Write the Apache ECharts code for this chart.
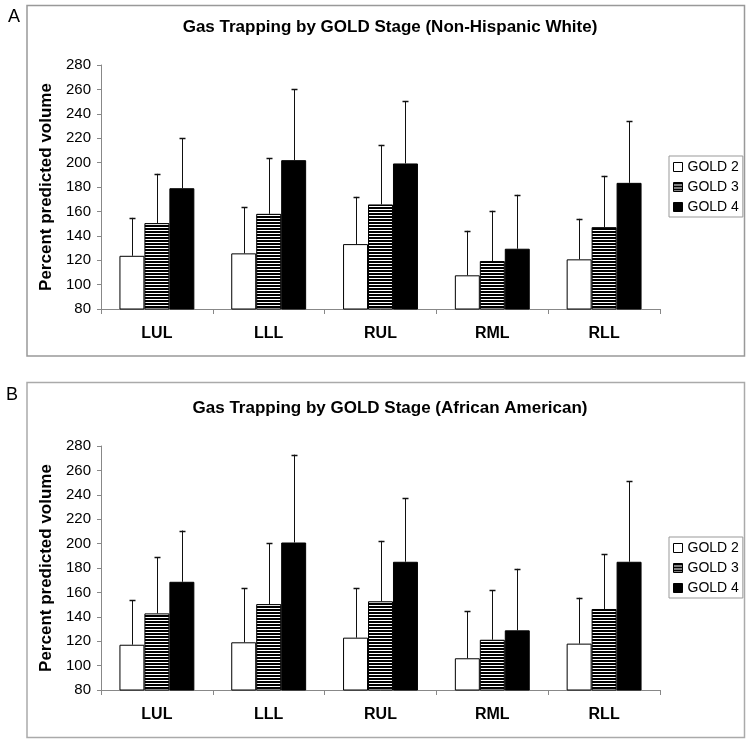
<!DOCTYPE html>
<html>
<head>
<meta charset="utf-8">
<script src="https://cdn.jsdelivr.net/npm/echarts@6/dist/echarts.min.js"></script>
<style>html,body{margin:0;padding:0;background:#fff}#c{width:750px;height:742px}</style>
</head>
<body>
<div id="c"></div>
<script>
const categories = ['LUL', 'LLL', 'RUL', 'RML', 'RLL'];
const seriesNames = ['GOLD 2', 'GOLD 3', 'GOLD 4'];
const yTicks = [80, 100, 120, 140, 160, 180, 200, 220, 240, 260, 280];

// Panel A: Non-Hispanic White (means and SD)
const nhwGold2 = [123.6, 125.6, 133.2, 107.6, 120.7];
const nhwGold3 = [150.4, 158.0, 165.7, 119.3, 147.1];
const nhwGold4 = [179.0, 202.0, 199.3, 129.4, 183.4];
const nhwGold2Sd = [31.1, 37.6, 38.7, 36.5, 33.2];
const nhwGold3Sd = [40.4, 45.6, 48.8, 41.2, 42.0];
const nhwGold4Sd = [41.0, 58.0, 51.2, 44.2, 50.3];

// Panel B: African American (means and SD)
const aaGold2 = [117.1, 119.1, 122.9, 106.0, 118.0];
const aaGold3 = [142.8, 150.4, 152.7, 121.2, 146.4];
const aaGold4 = [168.7, 200.9, 185.1, 128.9, 185.1];
const aaGold2Sd = [36.4, 44.2, 40.4, 38.5, 37.6];
const aaGold3Sd = [45.9, 49.7, 49.5, 40.5, 45.0];
const aaGold4Sd = [42.0, 72.0, 52.1, 50.4, 66.0];

const FONT = 'Arial, "Liberation Sans", sans-serif';
const CAT_GAP = 0.33;

function makeStripe() {
  const cv = document.createElement('canvas');
  cv.width = 4; cv.height = 3;
  const ctx = cv.getContext('2d');
  ctx.fillStyle = '#fff'; ctx.fillRect(0, 0, 4, 3);
  ctx.fillStyle = '#000'; ctx.fillRect(0, 0, 4, 2);
  return cv;
}
const stripe = { image: makeStripe(), repeat: 'repeat' };
const fills = ['#ffffff', stripe, '#000000'];

const chart = echarts.init(document.getElementById('c'), null, { renderer: 'canvas' });

function barSeries(gi, k, data) {
  return {
    type: 'bar', name: seriesNames[k], xAxisIndex: gi, yAxisIndex: gi,
    data: data, barGap: '0%', barCategoryGap: (CAT_GAP * 100) + '%',
    itemStyle: { color: fills[k], borderColor: '#000', borderWidth: 1 },
    emphasis: { disabled: true }, z: 2
  };
}
function errSeries(gi, k, means, sds) {
  return {
    type: 'custom', name: seriesNames[k], xAxisIndex: gi, yAxisIndex: gi,
    data: means.map((m, i) => [i, m, sds[i]]),
    z: 5, silent: true,
    renderItem: function (params, api) {
      const ci = api.value(0), m = api.value(1), sd = api.value(2);
      const p0 = api.coord([ci, m]);
      const p1 = api.coord([ci, m + sd]);
      const band = api.size([1, 0])[0];
      const bw = band * (1 - CAT_GAP) / 3;
      const x = Math.round(p0[0] + (k - 1) * bw) + 0.5;
      const style = { stroke: '#111', lineWidth: 1 };
      return {
        type: 'group',
        children: [
          { type: 'line', shape: { x1: x, y1: p0[1], x2: x, y2: p1[1] }, style: style },
          { type: 'line', shape: { x1: x - 3, y1: Math.round(p1[1]) + 0.5, x2: x + 3, y2: Math.round(p1[1]) + 0.5 }, style: { stroke: '#111', lineWidth: 1.5 } }
        ]
      };
    }
  };
}

function xAxis(gi) {
  return {
    type: 'category', gridIndex: gi, data: categories,
    axisLine: { lineStyle: { color: '#888', width: 1 } },
    axisTick: { show: true, length: 5, lineStyle: { color: '#888' } },
    axisLabel: { color: '#000', fontFamily: FONT, fontWeight: 'bold', fontSize: 16, margin: 17 }
  };
}
function yAxis(gi) {
  return {
    type: 'value', gridIndex: gi, min: yTicks[0], max: yTicks[yTicks.length - 1], interval: 20,
    name: 'Percent predicted volume', nameLocation: 'middle', nameGap: 44,
    nameTextStyle: { color: '#000', fontFamily: FONT, fontWeight: 'bold', fontSize: 17 },
    axisLine: { show: true, lineStyle: { color: '#888', width: 1 } },
    axisTick: { show: true, length: 4, lineStyle: { color: '#888' } },
    splitLine: { show: false },
    axisLabel: { color: '#000', fontFamily: FONT, fontSize: 15, margin: 10 }
  };
}
function legend(top) {
  return {
    orient: 'vertical', left: 669, top: top, data: seriesNames,
    itemWidth: 9, itemHeight: 9, itemGap: 6, padding: [4, 4, 3, 4],
    borderColor: '#999', borderWidth: 1, backgroundColor: '#fff',
    icon: 'rect',
    itemStyle: { borderColor: '#000', borderWidth: 1 },
    textStyle: { color: '#000', fontFamily: FONT, fontSize: 14, lineHeight: 14 },
    selectedMode: false
  };
}

const option = {
  animation: false,
  backgroundColor: '#fff',
  title: [
    { text: 'Gas Trapping by GOLD Stage (Non-Hispanic White)', left: 385, top: 14, textAlign: 'center',
      textStyle: { fontFamily: FONT, fontWeight: 'bold', fontSize: 17, color: '#000' } },
    { text: 'Gas Trapping by GOLD Stage (African American)', left: 385, top: 395, textAlign: 'center',
      textStyle: { fontFamily: FONT, fontWeight: 'bold', fontSize: 17, color: '#000' } },
    { text: 'A', left: 3, top: 3, textStyle: { fontFamily: FONT, fontWeight: 'normal', fontSize: 18, color: '#000' } },
    { text: 'B', left: 1, top: 381, textStyle: { fontFamily: FONT, fontWeight: 'normal', fontSize: 18, color: '#000' } }
  ],
  graphic: [
    { type: 'rect', shape: { x: 27, y: 5.5, width: 717.5, height: 350.5 }, style: { fill: 'none', stroke: '#999', lineWidth: 1.5 }, z: -1 },
    { type: 'rect', shape: { x: 27, y: 382.5, width: 717.5, height: 355 }, style: { fill: 'none', stroke: '#aaa', lineWidth: 1.5 }, z: -1 }
  ],
  legend: [legend(156), legend(537)],
  grid: [
    { left: 101, right: 90, top: 65, height: 244 },
    { left: 101, right: 90, top: 446, height: 244 }
  ],
  xAxis: [xAxis(0), xAxis(1)],
  yAxis: [yAxis(0), yAxis(1)],
  series: [
    barSeries(0, 0, nhwGold2), barSeries(0, 1, nhwGold3), barSeries(0, 2, nhwGold4),
    errSeries(0, 0, nhwGold2, nhwGold2Sd), errSeries(0, 1, nhwGold3, nhwGold3Sd), errSeries(0, 2, nhwGold4, nhwGold4Sd),
    barSeries(1, 0, aaGold2), barSeries(1, 1, aaGold3), barSeries(1, 2, aaGold4),
    errSeries(1, 0, aaGold2, aaGold2Sd), errSeries(1, 1, aaGold3, aaGold3Sd), errSeries(1, 2, aaGold4, aaGold4Sd)
  ]
};
chart.setOption(option);
</script>
</body>
</html>
